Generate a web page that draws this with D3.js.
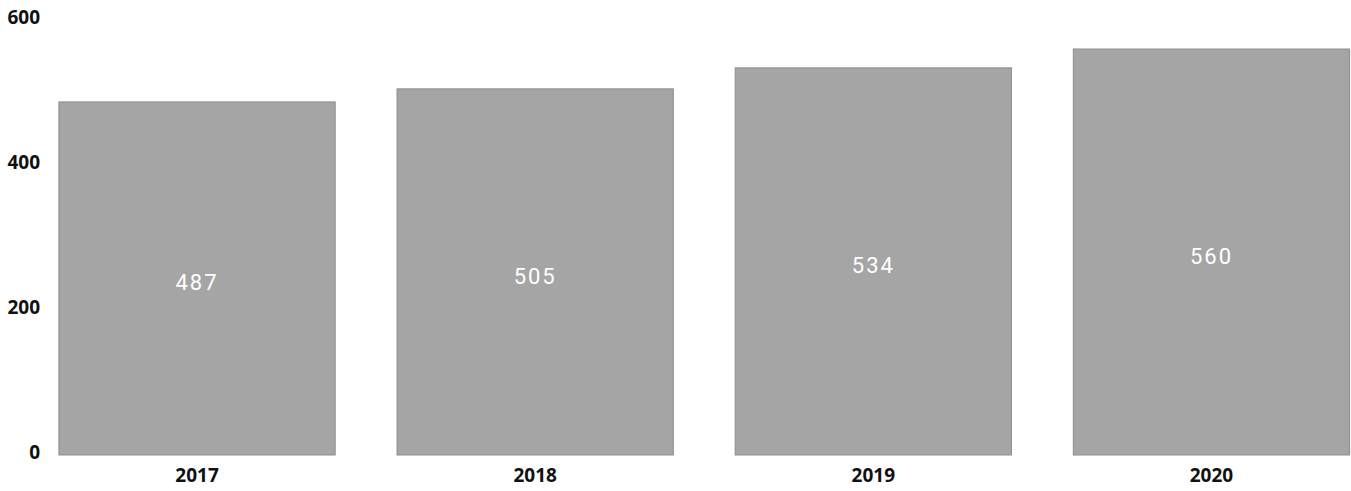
<!DOCTYPE html>
<html lang="en"><head><meta charset="utf-8">
<title>Bars</title>
<script src="https://cdn.jsdelivr.net/npm/d3@7"></script>
<style>
body { margin: 0; background: #fff; }
.tick text { font-family: "Open Sans", sans-serif; font-weight: 700; font-size: 19px; fill: #111; }
.value { font-family: Roboto, sans-serif; font-size: 22px; fill: #fff; letter-spacing: 2px; }
</style>
</head>
<body>
<script>
// values
var years = ["2017", "2018", "2019", "2020"];
var counts = [487, 505, 534, 560];
var yTicks = [0, 200, 400, 600];

var width = 1351, height = 491;
var baseline = 455;

var svg = d3.select("body").append("svg")
    .attr("width", width)
    .attr("height", height);

var x = d3.scaleBand().domain(years).range([30.5, 1378])
    .paddingInner(0.183).paddingOuter(0.084);
var y = d3.scaleLinear().domain([0, 600]).range([baseline, 20]);

var data = years.map(function(d, i) { return {year: d, value: counts[i]}; });

svg.selectAll("rect.bar")
    .data(data)
    .enter().append("rect")
    .attr("class", "bar")
    .attr("x", function(d) { return x(d.year); })
    .attr("y", function(d) { return y(d.value); })
    .attr("width", x.bandwidth())
    .attr("height", function(d) { return baseline - y(d.value); })
    .attr("fill", "#a5a5a5")
    .attr("stroke", "#8c8c8c")
    .attr("stroke-width", 1);

svg.selectAll("text.value")
    .data(data)
    .enter().append("text")
    .attr("class", "value")
    .attr("text-anchor", "middle")
    .attr("x", function(d) { return x(d.year) + x.bandwidth() / 2; })
    .attr("y", function(d) { return (y(d.value) + baseline) / 2 + 12; })
    .text(function(d) { return d.value; });

var yAxis = svg.append("g")
    .attr("transform", "translate(40,0)")
    .call(d3.axisLeft(y).tickValues(yTicks).tickSize(0).tickPadding(0));
yAxis.select(".domain").remove();
yAxis.selectAll(".tick text").attr("dy", "0.2em");

var xAxis = svg.append("g")
    .attr("transform", "translate(0," + baseline + ")")
    .call(d3.axisBottom(x).tickSize(0).tickPadding(14));
xAxis.select(".domain").remove();
</script>
</body></html>
